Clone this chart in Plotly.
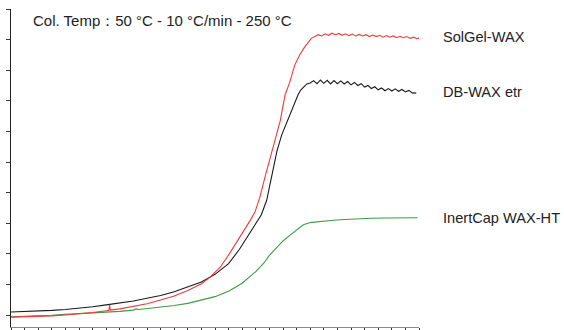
import plotly.graph_objects as go

# --- data (x: minutes 0..30, y: detector response, arbitrary units 0..10) ---
dbwax_x = [0, 1, 2, 3, 4, 5, 6, 7, 8, 9, 10, 11, 12, 13, 14, 15, 16, 16.8, 17.6, 18.0,
           18.4, 18.8, 19.05, 19.3, 19.55, 19.9, 20.15, 20.4, 20.7, 20.95, 21.1, 21.3,
           21.5, 21.75, 22.0, 22.25, 22.5, 22.75, 23.0, 23.25, 23.5, 23.75, 24.0, 24.25,
           24.5, 24.75, 25.0, 25.25, 25.5, 25.75, 26.0, 26.25, 26.5, 26.75, 27.0, 27.25,
           27.5, 27.75, 28.0, 28.25, 28.5, 28.75, 29.0, 29.25, 29.5, 29.8]
dbwax_y = [0.10, 0.11, 0.13, 0.15, 0.18, 0.22, 0.27, 0.33, 0.39, 0.46, 0.55, 0.64, 0.76,
           0.91, 1.08, 1.33, 1.68, 2.15, 2.70, 2.98, 3.27, 3.75, 4.25, 4.85, 5.35, 5.88,
           6.15, 6.45, 6.75, 7.00, 7.19, 7.35, 7.45, 7.55, 7.58, 7.66, 7.56, 7.68, 7.57,
           7.67, 7.55, 7.66, 7.56, 7.65, 7.55, 7.63, 7.52, 7.60, 7.50, 7.56, 7.45, 7.50,
           7.40, 7.46, 7.36, 7.42, 7.33, 7.40, 7.32, 7.39, 7.31, 7.37, 7.29, 7.34, 7.26,
           7.25]

solgel_x = [0, 1, 2, 3, 4, 5, 6, 7, 7.2, 7.25, 7.3, 8, 9, 10, 11, 12, 13, 14, 14.6, 15.4,
            16.1, 16.8, 17.6, 17.95, 18.3, 18.67, 19.0, 19.3, 19.55, 19.8, 20.15, 20.5,
            20.85, 21.2, 21.6, 22.1, 22.35, 22.6, 22.85, 23.1, 23.35, 23.6, 23.85, 24.1,
            24.35, 24.6, 24.85, 25.1, 25.35, 25.6, 25.85, 26.1, 26.35, 26.6, 26.85, 27.1,
            27.35, 27.6, 27.85, 28.1, 28.35, 28.6, 28.85, 29.1, 29.35, 29.6, 29.85, 30.0]
solgel_y = [-0.07, -0.06, -0.04, -0.03, 0.00, 0.03, 0.08, 0.14, 0.15, 0.33, 0.16, 0.20,
            0.28, 0.37, 0.49, 0.62, 0.80, 1.02, 1.22, 1.57, 2.03, 2.52, 3.10, 3.38, 3.85,
            4.50, 5.05, 5.46, 5.90, 6.35, 7.19, 7.61, 8.15, 8.48, 8.76, 9.05, 9.10, 9.16,
            9.12, 9.19, 9.14, 9.21, 9.15, 9.20, 9.14, 9.19, 9.13, 9.18, 9.12, 9.17, 9.12,
            9.16, 9.10, 9.15, 9.10, 9.14, 9.08, 9.13, 9.08, 9.12, 9.06, 9.11, 9.06, 9.10,
            9.04, 9.08, 9.03, 9.05]

inertcap_x = [0, 1, 2, 3, 4, 5, 6, 7, 8, 9, 9.2, 9.4, 10, 11, 12, 13, 14, 15, 16, 17, 18,
              18.6, 19.0, 19.5, 20.0, 20.5, 21.0, 21.5, 22.0, 22.5, 23.5, 24.5, 25.5, 26.5,
              27.5, 28.5, 29.9]
inertcap_y = [-0.06, -0.05, -0.03, -0.01, 0.02, 0.04, 0.06, 0.09, 0.12, 0.16, 0.20, 0.18,
              0.21, 0.25, 0.31, 0.38, 0.48, 0.60, 0.78, 1.04, 1.42, 1.70, 1.95, 2.20, 2.42,
              2.60, 2.78, 2.95, 3.02, 3.05, 3.09, 3.12, 3.15, 3.16, 3.17, 3.17, 3.18]

series_names = ["SolGel-WAX", "DB-WAX etr", "InertCap WAX-HT"]
title_text = "Col. Temp：50 °C - 10 °C/min - 250 °C"

W, H = 564, 330
FONT = "Liberation Sans, Arial, Helvetica, sans-serif"

# plot-area edges in window pixels
PL, PR, PT, PB = 10.7, 419.3, 9.0, 327.0
ml, mr = PL, W - PR
mt, mb = PT, H - PB
pw, ph = PR - PL, PB - PT


def px_to_paper(xw, yw):
    return (xw - PL) / pw, 1 - (yw - PT) / ph


fig = go.Figure()
fig.add_trace(go.Scatter(x=inertcap_x, y=inertcap_y, mode="lines",
                         line=dict(color="#3f9a45", width=1.1), name=series_names[2]))
fig.add_trace(go.Scatter(x=dbwax_x, y=dbwax_y, mode="lines",
                         line=dict(color="#1a1a1a", width=1.1), name=series_names[1]))
fig.add_trace(go.Scatter(x=solgel_x, y=solgel_y, mode="lines",
                         line=dict(color="#f23a3a", width=1.1), name=series_names[0]))

annotations = []
tx, ty = px_to_paper(31, 20)
annotations.append(dict(text=title_text, x=tx, y=ty, xref="paper", yref="paper",
                        xanchor="left", yanchor="middle", showarrow=False,
                        font=dict(family=FONT, size=15, color="#222")))
for name, ly in zip(series_names, [37, 92, 218]):
    lx, lyp = px_to_paper(441, ly)
    annotations.append(dict(text=name, x=lx, y=lyp, xref="paper", yref="paper",
                            xanchor="left", yanchor="middle", showarrow=False,
                            font=dict(family=FONT, size=14.6, color="#222")))

fig.update_layout(
    width=W, height=H,
    margin=dict(l=ml, r=mr, t=mt, b=mb, pad=0, autoexpand=False),
    paper_bgcolor="white", plot_bgcolor="white",
    showlegend=False,
    hovermode=False,
    annotations=annotations,
    xaxis=dict(range=[0, 30], tick0=0, dtick=1, ticks="outside", ticklen=4,
               tickcolor="#333", tickwidth=1, showticklabels=False, showgrid=False,
               zeroline=False, showline=True, linecolor="#888", linewidth=1,
               automargin=False),
    yaxis=dict(range=[-0.392, 10], tick0=0, dtick=1, ticks="outside", ticklen=4,
               tickcolor="#333", tickwidth=1, showticklabels=False, showgrid=False,
               zeroline=False, showline=True, linecolor="#222", linewidth=1,
               automargin=False),
)

fig.write_html(
    "out.html",
    config={"displayModeBar": False, "staticPlot": True},
    post_script="document.body.style.margin='0';document.body.style.overflow='hidden';",
)
